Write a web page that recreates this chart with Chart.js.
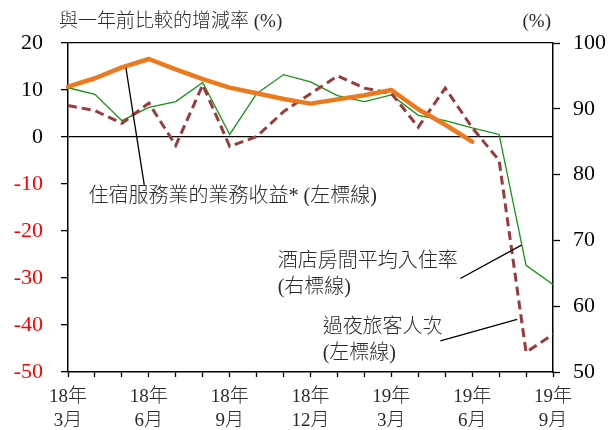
<!DOCTYPE html>
<html>
<head>
<meta charset="utf-8">
<script src="https://cdn.jsdelivr.net/npm/chart.js@4.4.1/dist/chart.umd.min.js"></script>
<style>
html,body{margin:0;padding:0;background:#fff;}
#wrap{width:616px;height:430px;}
</style>
</head>
<body>
<div id="wrap"><canvas id="c" width="616" height="430"></canvas></div>
<script>
// ---- data ----
const months = ['18年3月','18年4月','18年5月','18年6月','18年7月','18年8月','18年9月','18年10月','18年11月','18年12月',
                '19年1月','19年2月','19年3月','19年4月','19年5月','19年6月','19年7月','19年8月','19年9月'];
const revenue = [10.7, 12.5, 14.8, 16.6, 14.4, 12.3, 10.5, 9.3, 8.1, 7.1, 8.0, 8.9, 10.0, 5.9, 2.6, -1.0, null, null, null];
const visitors = [6.7, 5.6, 2.9, 7.2, -1.8, 11.1, -2.0, 0.1, 5.4, 9.2, 13.0, 10.4, 9.3, 2.1, 10.4, 2.0, -5.0, -45.8, -42.0];
const occupancy = [93.2, 92.2, 88.2, 90.2, 91.1, 94.0, 86.1, 92.3, 95.2, 94.1, 92.0, 91.1, 92.1, 89.0, 88.2, 87.1, 86.1, 66.2, 63.3];
const leftTicks = {min: -50, max: 20, step: 10};
const rightTicks = {min: 50, max: 100, step: 10};
const seriesNames = ['住宿服務業的業務收益* (左標線)', '過夜旅客人次', '酒店房間平均入住率'];
const titleLeft = '與一年前比較的增減率 (%)';
const titleRight = '(%)';

// ---- annotation layout (in axis value space) ----
const notes = [
  {lines: ['住宿服務業的業務收益* (左標線)'], at: [0.76, -12.8]},
  {lines: ['酒店房間平均入住率', '(右標線)'], at: [7.78, -26.6]},
  {lines: ['過夜旅客人次', '(左標線)'], at: [9.45, -40.6]}
];
const leaders = [
  {from: [2.15, 14.7], to: [2.83, -10.2]},
  {from: [14.56, -30.1], to: [16.83, -23.0]},
  {from: [13.82, -43.4], to: [16.67, -38.8]}
];

const SERIF = '"Liberation Serif", "Noto Sans CJK TC", serif';
const TXT = '#2a2a2a';

const annot = {
  id: 'annot',
  afterDatasetsDraw(chart) {
    const ctx = chart.ctx, x = chart.scales.x, y = chart.scales.y;
    const ca = chart.chartArea;
    ctx.save();
    ctx.strokeStyle = '#000';
    ctx.lineWidth = 1.3;
    leaders.forEach(l => {
      ctx.beginPath();
      ctx.moveTo(x.getPixelForValue(l.from[0]), y.getPixelForValue(l.from[1]));
      ctx.lineTo(x.getPixelForValue(l.to[0]), y.getPixelForValue(l.to[1]));
      ctx.stroke();
    });
    ctx.fillStyle = TXT;
    ctx.font = '300 20px ' + SERIF;
    ctx.textBaseline = 'middle';
    ctx.textAlign = 'left';
    notes.forEach(n => {
      const px = x.getPixelForValue(n.at[0]);
      const py = y.getPixelForValue(n.at[1]);
      n.lines.forEach((t, i) => ctx.fillText(t, px, py + i * 25.5));
    });
    ctx.font = '300 19px ' + SERIF;
    ctx.fillText(titleLeft, ca.left - 9, 22);
    ctx.textAlign = 'right';
    ctx.fillText(titleRight, ca.right - 2, 22);
    ctx.restore();
  }
};

new Chart(document.getElementById('c'), {
  type: 'line',
  data: {
    labels: months,
    datasets: [
      {label: seriesNames[0], data: revenue, yAxisID: 'y', borderColor: '#EC7A1C', borderWidth: 4.5,
       borderCapStyle: 'round', borderJoinStyle: 'round', pointRadius: 0, tension: 0, order: 0},
      {label: seriesNames[1], data: visitors, yAxisID: 'y', borderColor: '#963C3C', borderWidth: 3,
       borderDash: [9, 5], pointRadius: 0, tension: 0, order: 1},
      {label: seriesNames[2], data: occupancy, yAxisID: 'y2', borderColor: '#149414', borderWidth: 1.3,
       pointRadius: 0, tension: 0, order: 2}
    ]
  },
  options: {
    responsive: false,
    animation: false,
    layout: {padding: {top: 43, left: 0, right: 0, bottom: 0}},
    plugins: {legend: {display: false}, tooltip: {enabled: false}, title: {display: false}},
    scales: {
      x: {
        type: 'category',
        offset: false,
        afterFit(s) { s.height = 58; },
        grid: {drawOnChartArea: false, drawTicks: true, tickLength: 5, tickColor: '#000', tickWidth: 1.3},
        border: {display: true, color: '#000', width: 1.5},
        ticks: {
          autoSkip: false, maxRotation: 0, minRotation: 0, padding: 8,
          color: TXT, font: {family: SERIF, size: 19, weight: 300, lineHeight: 1.27},
          callback(v, i) {
            if (i % 3 !== 0) return '';
            const m = months[i];
            const k = m.indexOf('年');
            return [m.slice(0, k + 1), m.slice(k + 1)];
          }
        }
      },
      y: {
        position: 'left',
        min: leftTicks.min, max: leftTicks.max,
        afterFit(s) { s.width = 68; },
        grid: {
          drawOnChartArea: true, drawTicks: true, tickLength: 7, tickColor: '#000', tickWidth: 1.3,
          lineWidth: 1.3,
          color: c => (c.tick && (c.tick.value === 0 || c.tick.value === leftTicks.max)) ? '#000' : 'rgba(0,0,0,0)'
        },
        border: {display: true, color: '#000', width: 1.5},
        ticks: {
          stepSize: leftTicks.step, padding: 18,
          font: {family: SERIF, size: 22},
          color: c => c.tick.value < 0 ? '#FF0000' : '#000'
        }
      },
      y2: {
        position: 'right',
        min: rightTicks.min, max: rightTicks.max,
        afterFit(s) { s.width = 63; },
        grid: {drawOnChartArea: false, drawTicks: true, tickLength: 7, tickColor: '#000', tickWidth: 1.3},
        border: {display: true, color: '#000', width: 1.5},
        ticks: {stepSize: rightTicks.step, padding: 13, font: {family: SERIF, size: 22}, color: '#000'}
      }
    }
  },
  plugins: [annot]
});
</script>
</body>
</html>
